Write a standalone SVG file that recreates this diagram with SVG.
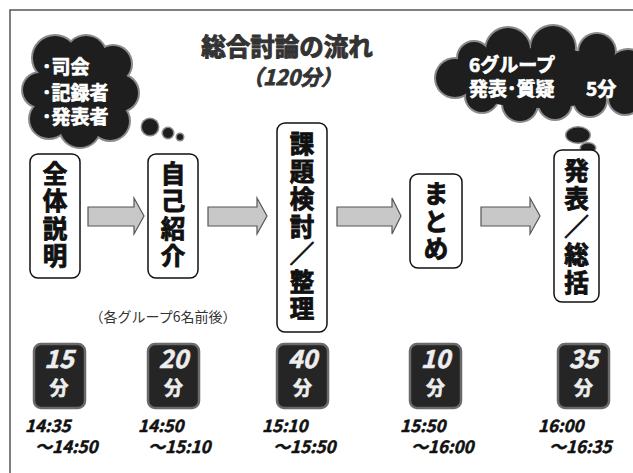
<svg xmlns="http://www.w3.org/2000/svg" width="633" height="473" viewBox="0 0 633 473">
<style>
.jp{font-family:"Noto Sans CJK JP","Noto Sans",sans-serif;font-weight:bold}
.node rect{fill:#fff;stroke:#111;stroke-width:1.5}
.node text{font-size:24.5px;fill:#111;stroke:#111;stroke-width:0.9;text-anchor:middle}
.arrow{fill:#c8c8c8;stroke:#555;stroke-width:1.2}
.tbox rect{fill:#252525;stroke:#6a6a6a;stroke-width:2.5}
.tbox text.num,.tbox text.fun{fill:#eee;stroke:#eee;stroke-width:0.6;text-anchor:middle}
.num{font-size:25px;font-style:italic}
.fun{font-size:19px}
.tbox text.time{font-size:17px;font-style:italic;fill:#111;stroke:#111;stroke-width:0.5}
.cloudo circle,.cloudo ellipse{fill:#8a8a8a}
.cloudi circle,.cloudi ellipse{fill:#1e1e1e}
.ctext{fill:#fff;stroke:#fff;stroke-width:0.7;font-size:19px}
</style>
<rect x="0" y="0" width="633" height="473" fill="#fff"/>
<rect x="10" y="10" width="640" height="480" fill="none" stroke="#555" stroke-width="1.5"/>

<g id="title" class="jp">
<text x="287" y="56" font-size="24.5" fill="#333" text-anchor="middle" stroke="#333" stroke-width="1">総合討論の流れ</text>
<text x="292" y="85" font-size="21" fill="#333" text-anchor="middle" font-style="italic" stroke="#333" stroke-width="0.8">（120分）</text>
</g>

<g id="cloud1">
<g class="cloudo">
<circle cx="40" cy="90" r="19"/><circle cx="55" cy="58" r="24"/><circle cx="86" cy="56" r="22"/><circle cx="113" cy="64" r="20"/><circle cx="120" cy="93" r="20"/><circle cx="110" cy="121" r="21"/><circle cx="80" cy="127" r="22"/><circle cx="49" cy="119" r="21"/><ellipse cx="80" cy="92" rx="45" ry="40"/>
<circle cx="150" cy="127" r="9.5"/><circle cx="168" cy="133" r="6.5"/><circle cx="180" cy="137" r="4.5"/>
</g>
<g class="cloudi">
<circle cx="40" cy="90" r="17"/><circle cx="55" cy="58" r="22"/><circle cx="86" cy="56" r="20"/><circle cx="113" cy="64" r="18"/><circle cx="120" cy="93" r="18"/><circle cx="110" cy="121" r="19"/><circle cx="80" cy="127" r="20"/><circle cx="49" cy="119" r="19"/><ellipse cx="80" cy="92" rx="45" ry="40"/>
<circle cx="150" cy="127" r="8"/><circle cx="168" cy="133" r="5"/><circle cx="180" cy="137" r="3"/>
</g>
<text class="jp ctext" x="42" y="74">･司会</text>
<text class="jp ctext" x="42" y="100">･記録者</text>
<text class="jp ctext" x="42" y="124">･発表者</text>
</g>

<g id="cloud2">
<g class="cloudo">
<circle cx="455" cy="78" r="21"/><circle cx="474" cy="58" r="18"/><circle cx="508" cy="50" r="24"/><circle cx="553" cy="48" r="24"/><circle cx="597" cy="52" r="20"/><circle cx="628" cy="70" r="22"/><circle cx="625" cy="98" r="18"/><circle cx="590" cy="100" r="18"/><circle cx="555" cy="103" r="18"/><circle cx="520" cy="104" r="19"/><circle cx="482" cy="96" r="18"/><ellipse cx="540" cy="78" rx="85" ry="30"/>
<ellipse cx="578" cy="135" rx="13" ry="9"/><ellipse cx="588" cy="148" rx="8.5" ry="6"/><ellipse cx="591" cy="157" rx="5" ry="3.5"/>
</g>
<g class="cloudi">
<circle cx="455" cy="78" r="19"/><circle cx="474" cy="58" r="16"/><circle cx="508" cy="50" r="22"/><circle cx="553" cy="48" r="22"/><circle cx="597" cy="52" r="18"/><circle cx="628" cy="70" r="20"/><circle cx="625" cy="98" r="16"/><circle cx="590" cy="100" r="16"/><circle cx="555" cy="103" r="16"/><circle cx="520" cy="104" r="17"/><circle cx="482" cy="96" r="16"/><ellipse cx="540" cy="78" rx="85" ry="30"/>
<ellipse cx="578" cy="135" rx="11.5" ry="7.5"/><ellipse cx="588" cy="148" rx="7" ry="4.5"/><ellipse cx="591" cy="157" rx="3.5" ry="2.2"/>
</g>
<text class="jp ctext" x="469" y="72">6グループ</text>
<text class="jp ctext" x="469" y="96">発表･質疑<tspan x="586">5分</tspan></text>
</g>

<g id="connectors">
<path class="arrow" d="M88,207 H134 V198 L144,216 L134,234 V226 H88 Z"/>
<path class="arrow" d="M208,207 H257 V198 L267,216 L257,234 V226 H208 Z"/>
<path class="arrow" d="M337,207 H392 V198 L401,216 L392,234 V226 H337 Z"/>
<path class="arrow" d="M481,207 H530 V198 L540,216 L530,234 V226 H481 Z"/>
</g>

<g id="node1" class="node jp">
<rect x="30" y="154" width="50" height="124" rx="8"/>
<text x="55" y="183">全<tspan x="55" dy="27.3">体</tspan><tspan x="55" dy="27.3">説</tspan><tspan x="55" dy="27.3">明</tspan></text>
</g>
<g id="node2" class="node jp">
<rect x="148" y="154" width="50" height="124" rx="8"/>
<text x="173" y="183">自<tspan x="173" dy="27.3">己</tspan><tspan x="173" dy="27.3">紹</tspan><tspan x="173" dy="27.3">介</tspan></text>
</g>
<g id="node3" class="node jp">
<rect x="277" y="123" width="50" height="209" rx="8"/>
<text x="302" y="153">課<tspan x="302" dy="27.5">題</tspan><tspan x="302" dy="27.5">検</tspan><tspan x="302" dy="27.5">討</tspan><tspan x="302" dy="27.5">／</tspan><tspan x="302" dy="27.5">整</tspan><tspan x="302" dy="27.5">理</tspan></text>
</g>
<g id="node4" class="node jp">
<rect x="410" y="174" width="52" height="94" rx="8"/>
<text x="436" y="203">ま<tspan x="436" dy="27.5">と</tspan><tspan x="436" dy="27.5">め</tspan></text>
</g>
<g id="node5" class="node jp">
<rect x="554" y="150" width="45" height="152" rx="8"/>
<text x="576.5" y="180">発<tspan x="576.5" dy="28">表</tspan><tspan x="576.5" dy="28">／</tspan><tspan x="576.5" dy="28">総</tspan><tspan x="576.5" dy="28">括</tspan></text>
</g>

<text id="note" x="163" y="322" font-family="Noto Sans CJK JP, sans-serif" font-size="14" fill="#333" text-anchor="middle">（各グループ6名前後）</text>

<g id="t1" class="tbox jp">
<rect x="34" y="344" width="51" height="64" rx="7"/>
<text class="num" x="59" y="368">15</text><text class="fun" x="59" y="395">分</text>
<text class="time" x="25" y="432">14:35</text><text class="time" x="35" y="453">～14:50</text>
</g>
<g id="t2" class="tbox jp">
<rect x="148" y="344" width="51" height="64" rx="7"/>
<text class="num" x="173.5" y="368">20</text><text class="fun" x="173.5" y="395">分</text>
<text class="time" x="138" y="432">14:50</text><text class="time" x="148" y="453">～15:10</text>
</g>
<g id="t3" class="tbox jp">
<rect x="277" y="344" width="51" height="64" rx="7"/>
<text class="num" x="302.5" y="368">40</text><text class="fun" x="302.5" y="395">分</text>
<text class="time" x="262" y="432">15:10</text><text class="time" x="273" y="453">～15:50</text>
</g>
<g id="t4" class="tbox jp">
<rect x="410" y="344" width="51" height="64" rx="7"/>
<text class="num" x="435.5" y="368">10</text><text class="fun" x="435.5" y="395">分</text>
<text class="time" x="400" y="432">15:50</text><text class="time" x="411" y="453">～16:00</text>
</g>
<g id="t5" class="tbox jp">
<rect x="558" y="344" width="51" height="64" rx="7"/>
<text class="num" x="583.5" y="368">35</text><text class="fun" x="583.5" y="395">分</text>
<text class="time" x="538" y="432">16:00</text><text class="time" x="549" y="453">～16:35</text>
</g>
</svg>
